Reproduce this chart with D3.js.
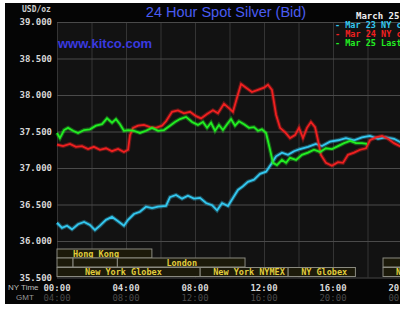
<!DOCTYPE html>
<meta charset="utf-8">
<style>
body { margin: 0; background: #fff; }
svg { display: block; }
.mono { font-family: "DejaVu Sans Mono", "Liberation Mono", monospace; font-weight: bold; }
</style>
<body>
<div id="chart"></div>
<script src="https://cdnjs.cloudflare.com/ajax/libs/d3/7.8.5/d3.min.js"></script>
<script>
// hours since 00:00 NY time, price in USD/oz
var mar23 = [
  [0,36.25],[0.29,36.18],[0.58,36.21],[0.87,36.16],[1.22,36.23],[1.57,36.26],[1.91,36.22],[2.2,36.15],
  [2.49,36.21],[2.84,36.29],[3.19,36.33],[3.54,36.27],[3.88,36.21],[4.12,36.29],[4.46,36.37],[4.81,36.40],
  [5.16,36.47],[5.51,36.45],[5.86,36.47],[6.32,36.48],[6.55,36.60],[6.9,36.63],[7.25,36.58],[7.59,36.62],
  [7.94,36.58],[8.29,36.59],[8.64,36.52],[8.99,36.49],[9.28,36.42],[9.57,36.52],[9.91,36.48],[10.2,36.59],
  [10.49,36.70],[10.78,36.75],[11.07,36.81],[11.42,36.84],[11.77,36.92],[12.12,36.95],[12.41,37.05],[12.7,37.16],
  [13.04,37.21],[13.39,37.18],[13.74,37.23],[14.09,37.26],[14.55,37.29],[15.01,37.33],[15.36,37.30],[15.83,37.36],
  [16.29,37.38],[16.75,37.41],[17.22,37.38],[17.68,37.42],[18.14,37.44],[18.61,37.40],[19.07,37.42],[19.54,37.40],[20,37.34]
];
var mar24 = [
  [0,37.32],[0.35,37.30],[0.75,37.33],[1.1,37.29],[1.45,37.30],[1.8,37.26],[2.14,37.29],[2.49,37.25],
  [2.84,37.27],[3.19,37.23],[3.54,37.26],[3.88,37.22],[4.12,37.25],[4.23,37.45],[4.41,37.55],[4.7,37.58],
  [5.04,37.59],[5.39,37.56],[5.74,37.55],[6.09,37.58],[6.32,37.64],[6.67,37.77],[7.01,37.79],[7.36,37.75],
  [7.71,37.77],[8.06,37.71],[8.35,37.68],[8.7,37.74],[9.04,37.79],[9.33,37.75],[9.68,37.88],[9.97,37.82],
  [10.2,37.77],[10.43,37.96],[10.67,38.15],[10.96,38.10],[11.3,38.04],[11.65,38.07],[12,38.10],[12.23,38.14],
  [12.46,38.07],[12.7,37.73],[12.93,37.55],[13.22,37.49],[13.51,37.41],[13.8,37.45],[14.03,37.55],[14.26,37.41],
  [14.49,37.55],[14.72,37.63],[14.96,37.56],[15.13,37.38],[15.3,37.18],[15.59,37.07],[15.94,37.03],[16.29,37.08],
  [16.58,37.07],[16.87,37.18],[17.22,37.21],[17.57,37.25],[17.91,37.27],[18.14,37.38],[18.49,37.42],[18.84,37.44],
  [19.19,37.40],[19.54,37.34],[19.88,37.30],[20.17,37.27]
];
var mar25 = [
  [0,37.48],[0.17,37.41],[0.41,37.52],[0.64,37.55],[0.93,37.51],[1.22,37.48],[1.57,37.52],[1.91,37.53],
  [2.26,37.58],[2.61,37.60],[2.9,37.68],[3.19,37.62],[3.42,37.67],[3.65,37.60],[3.88,37.51],[4.12,37.52],
  [4.46,37.51],[4.81,37.48],[5.16,37.51],[5.51,37.55],[5.86,37.51],[6.2,37.52],[6.55,37.58],[6.84,37.63],
  [7.13,37.67],[7.48,37.70],[7.83,37.63],[8.17,37.59],[8.46,37.63],[8.7,37.55],[8.93,37.62],[9.16,37.51],
  [9.39,37.59],[9.62,37.52],[9.86,37.60],[10.09,37.67],[10.32,37.58],[10.55,37.64],[10.84,37.60],[11.13,37.55],
  [11.42,37.56],[11.65,37.51],[11.88,37.53],[12.12,37.48],[12.35,37.25],[12.52,37.07],[12.75,37.04],[13.04,37.11],
  [13.28,37.07],[13.51,37.14],[13.86,37.11],[14.2,37.18],[14.55,37.21],[14.9,37.25],[15.25,37.22],[15.59,37.27],
  [15.94,37.26],[16.29,37.30],[16.64,37.34],[16.99,37.37],[17.33,37.34],[17.68,37.34],[17.97,37.33]
];
var seriesNames = ["Mar 23 NY close", "Mar 24 NY close", "Mar 25 Last"];
var seriesColors = ["#33c8f0", "#f02020", "#22ee22"];
var yTicks = [35.5, 36, 36.5, 37, 37.5, 38, 38.5, 39];
var nyTicks = ["00:00", "04:00", "08:00", "12:00", "16:00", "20:00", "24:00"];
var gmtTicks = ["04:00", "08:00", "12:00", "16:00", "20:00", "00:00", "04:00"];
// market sessions: [start hour, end hour, row, label]
var sessions = [
  [0, 5.5, 0, "Hong Kong"],
  [0, 0.93, 1, ""], [0.93, 3.5, 1, ""], [3.5, 10.9, 1, "London"], [18.9, 24, 1, ""],
  [0, 8.3, 2, "New York Globex"], [8.3, 13.4, 2, "New York NYMEX"], [13.4, 17.3, 2, "NY Globex"], [18.9, 24, 2, "New York Globex"]
];

var W = 400, H = 309;
var svg = d3.select("#chart").append("svg").attr("width", W).attr("height", H);
svg.append("rect").attr("x", 5).attr("y", 3).attr("width", W - 5).attr("height", 301).attr("fill", "#050505");

var x = d3.scaleLinear().domain([0, 24]).range([57, 471]);
var y = d3.scaleLinear().domain([35.5, 39]).range([277.5, 22]);

svg.append("rect").attr("x", 57).attr("y", 22).attr("width", 414).attr("height", 255.5).attr("fill", "#121212");

// grid
var gx = d3.axisBottom(x).tickValues(d3.range(0, 25, 2)).tickSize(255.5).tickFormat("");
svg.append("g").attr("transform", "translate(0,22)").call(gx)
  .call(g => g.select(".domain").remove())
  .selectAll("line").attr("stroke", "#343434");
var gy = d3.axisRight(y).tickValues(yTicks).tickSize(414).tickFormat("");
svg.append("g").attr("transform", "translate(57,0)").call(gy)
  .call(g => g.select(".domain").remove())
  .selectAll("line").attr("stroke", "#4a4a4a");

// y labels
var ya = d3.axisLeft(y).tickValues(yTicks).tickSize(0).tickPadding(5).tickFormat(d3.format(".3f"));
svg.append("g").attr("class", "mono").attr("transform", "translate(57,0)").call(ya)
  .call(g => g.select(".domain").remove())
  .selectAll("text").attr("fill", "#d8d8d8").attr("font-size", 9).attr("font-family", null);

// sessions
var rowY = [249, 258, 267.5];
var sg = svg.append("g").selectAll("g").data(sessions).join("g");
sg.append("rect")
  .attr("x", d => x(d[0])).attr("y", d => rowY[d[2]])
  .attr("width", d => x(d[1]) - x(d[0])).attr("height", 9)
  .attr("fill", "#1c1a0a").attr("stroke", "#8a8a80").attr("stroke-width", 1);
sg.append("text")
  .attr("class", "mono")
  .attr("x", d => d[3] === "London" ? x(d[0]) + 49 : x(d[0]) + (d[2] === 2 ? (d[0] === 0 ? 28 : 13) : 16))
  .attr("y", d => rowY[d[2]] + 7.5)
  .attr("fill", "#e0cc3c").attr("font-size", 8.5).attr("font-weight", "normal")
  .text(d => d[3]);

// lines
var line = d3.line().x(d => x(d[0])).y(d => y(d[1]));
[mar23, mar24, mar25].forEach(function (s, i) {
  svg.append("path").datum(s).attr("d", line).attr("fill", "none")
    .attr("stroke", seriesColors[i]).attr("stroke-opacity", 0.35).attr("stroke-width", 4);
  svg.append("path").datum(s).attr("d", line).attr("fill", "none")
    .attr("stroke", seriesColors[i]).attr("stroke-width", 1.8);
});

// x labels
var xl = svg.append("g").attr("class", "mono").attr("font-size", 9);
xl.selectAll(".ny").data(nyTicks).join("text")
  .attr("x", (d, i) => x(i * 4)).attr("y", 291).attr("text-anchor", "middle")
  .attr("fill", "#d8d8d8").text(d => d);
xl.selectAll(".gmt").data(gmtTicks).join("text")
  .attr("x", (d, i) => x(i * 4)).attr("y", 301).attr("text-anchor", "middle")
  .attr("fill", "#4a4a4a").attr("font-weight", "normal").text(d => d);
svg.append("text").attr("x", 8).attr("y", 290).attr("fill", "#bbb")
  .attr("font-family", "Liberation Sans, Arial, sans-serif").attr("font-size", 8).text("NY Time");
svg.append("text").attr("x", 16).attr("y", 300).attr("fill", "#999")
  .attr("font-family", "Liberation Sans, Arial, sans-serif").attr("font-size", 8).text("GMT");

// headings
svg.append("text").attr("class", "mono").attr("x", 22).attr("y", 12).attr("fill", "#ccc")
  .attr("font-size", 8).attr("font-weight", "normal").text("USD/oz");
svg.append("text").attr("x", 226).attr("y", 17).attr("text-anchor", "middle")
  .attr("fill", "#4a5cf0").attr("font-family", "Liberation Sans, Arial, sans-serif")
  .attr("font-size", 14.5).text("24 Hour Spot Silver (Bid)");
svg.append("text").attr("x", 58).attr("y", 48)
  .attr("fill", "#3a3ae0").attr("font-family", "Liberation Sans, Arial, sans-serif")
  .attr("font-weight", "bold").attr("font-size", 13).text("www.kitco.com");
svg.append("text").attr("class", "mono").attr("x", 356).attr("y", 19).attr("fill", "#eee")
  .attr("font-size", 9).text("March 25, 2011");

var lg = svg.append("g").attr("class", "mono").attr("font-size", 8.5);
lg.selectAll("text").data(seriesNames).join("text")
  .attr("x", 335).attr("y", (d, i) => 28 + i * 9)
  .attr("fill", (d, i) => seriesColors[i]).text(d => "- " + d);
</script>
</body>
</html>
